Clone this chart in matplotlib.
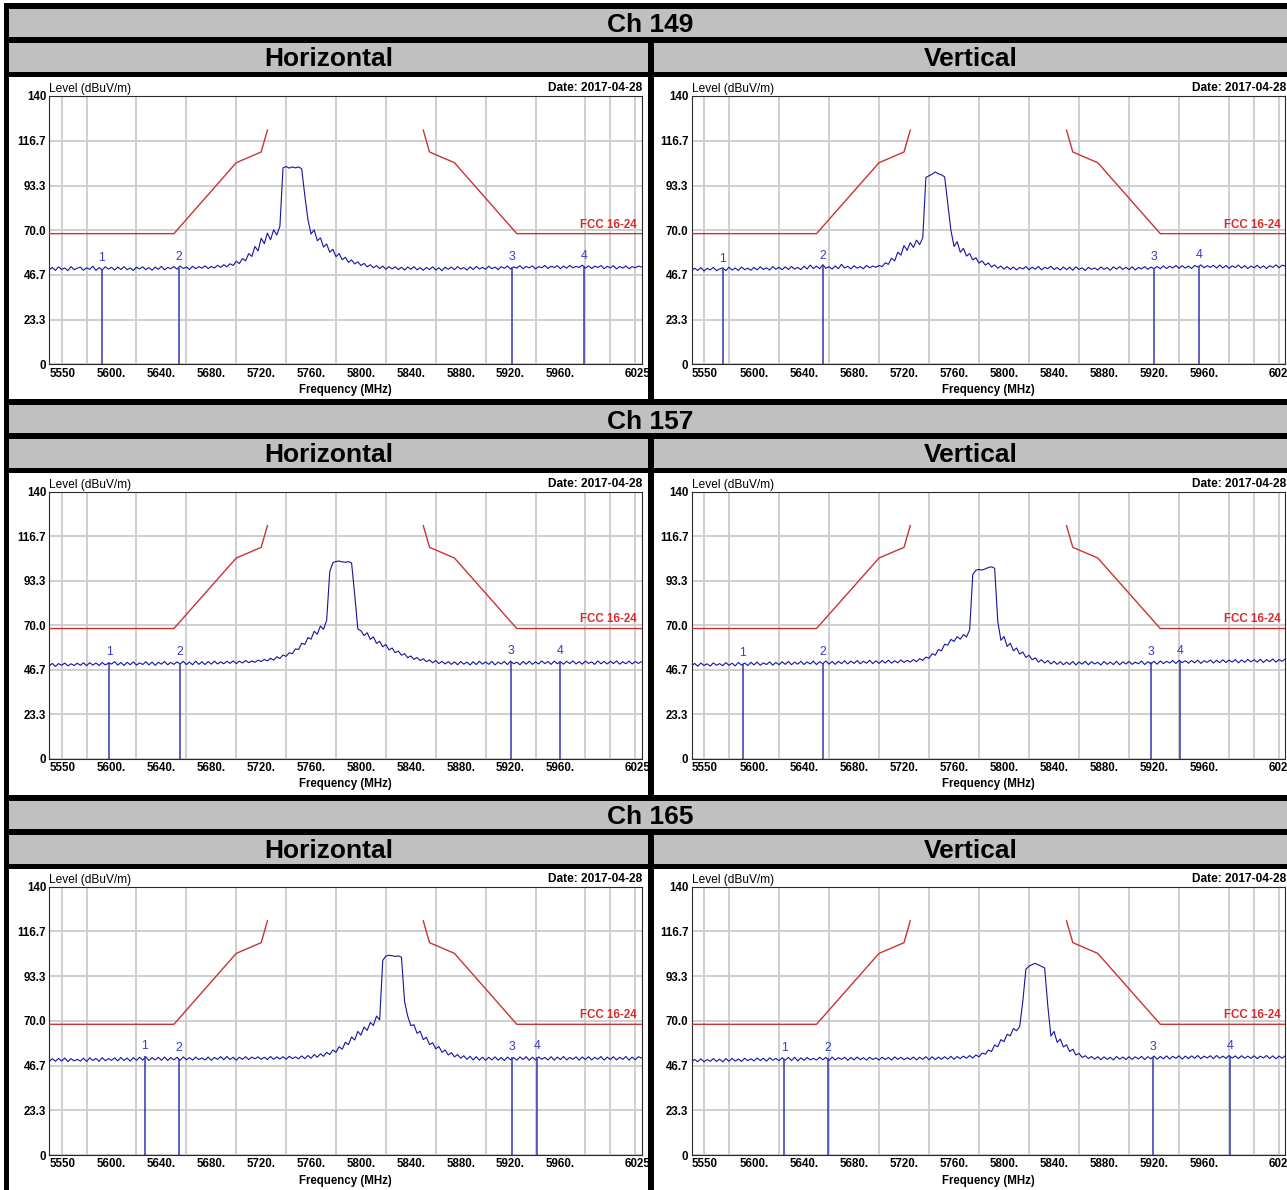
import numpy as np
import matplotlib
matplotlib.use('Agg')
import matplotlib.pyplot as plt
from matplotlib.patches import Rectangle

plt.rcParams['font.family'] = ['Liberation Sans', 'DejaVu Sans']

W, H = 1287, 1190

# ---------------- data ----------------
channels = ['Ch 149', 'Ch 157', 'Ch 165']
polarizations = ['Horizontal', 'Vertical']
date_label = 'Date: 2017-04-28'
y_label = 'Level (dBuV/m)'
x_label = 'Frequency (MHz)'
limit_name = 'FCC 16-24'

f_start, f_stop = 5550, 6025
y_ticks = [0, 23.3, 46.7, 70.0, 93.3, 116.7, 140]
y_ticklabels = ['0', '23.3', '46.7', '70.0', '93.3', '116.7', '140']
x_ticks = [5550, 5600, 5640, 5680, 5720, 5760, 5800, 5840, 5880, 5920, 5960, 6022]
x_ticklabels = ['5550', '5600.', '5640.', '5680.', '5720.', '5760.', '5800.',
                '5840.', '5880.', '5920.', '5960.', '6025']
grid_x = [5560, 5580, 5600, 5620, 5640, 5660, 5680, 5700, 5720, 5740, 5760, 5780,
          5800, 5820, 5840, 5860, 5880, 5900, 5920, 5940, 5960, 5980, 6000, 6020]

limit_low_f = [5550, 5650, 5700, 5720, 5725]
limit_low_v = [68.2, 68.2, 105.2, 110.8, 122.2]
limit_high_f = [5850, 5855, 5875, 5925, 6025]
limit_high_v = [122.2, 110.8, 105.2, 68.2, 68.2]

trace_149_h = [
    49.3, 50.6, 49.0, 50.9, 49.5, 50.3, 48.9, 51.0, 49.4, 50.2,
    50.8, 49.1, 50.4, 49.6, 51.2, 49.0, 50.5, 49.3, 50.9, 49.7,
    50.6, 49.2, 50.8, 49.5, 51.0, 49.4, 50.3, 49.0, 50.7, 49.8,
    50.9, 49.4, 50.5, 49.1, 50.8, 49.6, 51.1, 49.3, 50.6, 49.9,
    51.0, 49.7, 51.3, 50.0, 50.8, 49.5, 51.2, 49.9, 51.0, 50.2,
    51.4, 50.0, 51.1, 50.3, 51.7, 50.6, 52.0, 50.9, 52.5, 51.6,
    53.8, 52.6, 55.2, 54.0, 57.8, 56.3, 61.5, 59.2, 65.8, 63.0,
    68.5, 65.0, 70.2, 67.5, 72.0, 102.5, 103.2, 102.4, 103.0, 102.5,
    103.0, 102.0, 88.0, 75.5, 68.0, 70.2, 64.5, 66.0, 61.2, 62.8,
    58.5, 60.0, 56.2, 57.8, 54.6, 55.9, 53.2, 54.5, 52.4, 53.5,
    51.6, 52.7, 50.9, 52.0, 50.4, 51.5, 50.0, 51.3, 49.6, 51.0,
    49.8, 50.9, 49.4, 50.7, 49.2, 50.8, 49.6, 51.0, 49.3, 50.5,
    49.1, 50.6, 49.5, 50.9, 49.2, 50.4, 48.9, 50.7, 49.6, 50.8,
    49.4, 51.0, 49.7, 50.5, 49.2, 50.9, 49.5, 51.1, 49.8, 50.6,
    49.6, 51.2, 49.9, 50.8, 49.4, 51.0, 50.1, 51.3, 49.7, 50.9,
    50.2, 51.5, 49.9, 51.1, 50.3, 51.4, 49.8, 51.0, 50.4, 51.6,
    50.0, 51.2, 50.5, 51.5, 49.9, 51.3, 50.2, 51.6, 50.4, 51.1,
    50.6, 51.8, 50.2, 51.4, 50.0, 51.3, 50.5, 51.6, 49.9, 51.2,
    50.3, 51.5, 49.8, 51.1, 50.2, 51.4, 49.9, 51.0, 50.4, 51.3, 50.8]

trace_149_v = [
    48.8, 50.2, 49.0, 50.5, 48.7, 50.1, 49.3, 50.6, 48.9, 49.8,
    50.4, 48.9, 50.7, 49.2, 50.3, 49.0, 50.8, 49.4, 50.2, 49.1,
    50.6, 49.3, 50.9, 49.5, 50.4, 49.2, 51.0, 49.6, 50.7, 49.4,
    50.9, 49.5, 51.1, 49.7, 50.6, 49.4, 51.2, 49.8, 51.8, 50.0,
    51.3, 49.9, 52.0, 50.1, 51.0, 49.7, 51.4, 49.9, 52.2, 50.3,
    51.2, 49.8, 51.5, 50.2, 51.0, 49.9, 51.6, 50.4, 51.3, 50.6,
    51.6, 51.0, 53.0, 52.2, 55.4, 54.0, 58.5, 57.0, 62.0, 59.5,
    63.5, 61.0, 64.8, 62.5, 66.0, 97.5, 98.4, 99.2, 100.4, 99.4,
    98.9, 97.8, 84.0, 70.0, 61.5, 64.0, 58.5, 60.5, 56.5, 57.8,
    54.5, 55.6, 52.9, 54.0, 51.8, 52.9, 50.8, 51.9, 50.2, 51.3,
    49.7, 51.0, 49.5, 50.8, 49.3, 50.6, 49.8, 51.0, 49.4, 50.7,
    49.6, 51.1, 49.3, 50.6, 49.9, 51.2, 49.5, 50.5, 49.2, 50.8,
    49.4, 50.7, 49.1, 50.9, 49.5, 50.4, 49.0, 50.6, 49.6, 50.3,
    49.3, 50.8, 49.6, 50.5, 49.1, 50.9, 49.7, 51.0, 49.5, 50.7,
    49.4, 50.9, 49.2, 50.6, 49.8, 51.0, 49.6, 50.8, 49.9, 51.1,
    49.9, 51.4, 50.0, 51.2, 50.3, 51.6, 50.1, 51.5, 50.2, 51.3,
    50.0, 51.6, 50.8, 51.9, 50.4, 51.5, 50.6, 51.7, 50.2, 51.8,
    50.3, 51.6, 50.1, 51.4, 50.5, 51.8, 50.2, 51.5, 50.0, 51.3,
    50.4, 51.7, 50.2, 51.4, 50.0, 51.5, 50.6, 51.9, 50.4, 51.8, 51.2]

trace_157_h = [
    48.5, 49.9, 48.3, 49.8, 48.9, 50.1, 48.6, 49.7, 48.8, 50.0,
    48.9, 50.2, 48.7, 50.3, 49.0, 50.1, 48.8, 50.4, 49.1, 50.0,
    49.6, 50.8, 49.0, 50.4, 48.8, 50.5, 49.2, 50.7, 49.0, 50.2,
    49.3, 50.8, 49.1, 50.6, 48.9, 50.5, 49.5, 50.9, 49.2, 50.4,
    49.4, 50.7, 49.6, 51.0, 49.3, 50.6, 49.2, 51.1, 49.4, 50.8,
    49.3, 50.9, 49.5, 51.1, 49.6, 50.7, 49.7, 51.0, 49.9, 51.2,
    49.8, 51.1, 50.1, 51.4, 50.3, 51.2, 50.5, 51.6, 50.9, 52.0,
    51.2, 52.6, 51.6, 53.4, 52.5, 54.3, 53.6, 55.5, 55.0, 57.5,
    57.2, 60.5, 59.8, 63.5, 62.6, 66.8, 65.2, 69.5, 67.8, 72.5,
    98.0, 102.8, 103.4, 103.6, 103.2, 103.0, 103.3, 102.6, 86.0, 68.0,
    67.0, 64.5, 66.0, 62.5, 63.8, 60.4, 61.5, 58.6, 59.8, 57.0,
    58.0, 55.5, 56.4, 54.2, 55.0, 52.9, 53.8, 52.0, 53.0, 51.4,
    52.3, 50.8, 51.7, 50.2, 51.4, 49.8, 51.0, 49.6, 50.8, 49.4,
    50.7, 49.2, 50.9, 49.5, 50.6, 49.1, 50.8, 49.3, 51.0, 49.5,
    50.7, 49.4, 51.0, 49.1, 50.6, 49.6, 50.9, 49.3, 51.1, 49.7,
    50.6, 49.2, 50.9, 49.5, 51.0, 49.4, 50.7, 49.6, 51.2, 49.8,
    50.9, 49.4, 51.1, 49.7, 50.8, 49.5, 51.0, 49.8, 51.2, 49.6,
    50.8, 49.5, 51.1, 49.9, 50.7, 49.4, 51.2, 49.7, 50.9, 49.6,
    51.0, 49.8, 51.2, 49.5, 50.8, 49.7, 51.1, 49.6, 50.9, 49.9, 50.8]

trace_157_v = [
    48.6, 49.9, 48.4, 50.1, 48.8, 49.7, 48.5, 50.2, 48.9, 49.8,
    48.7, 50.3, 48.9, 50.0, 48.6, 50.4, 49.0, 50.1, 48.8, 50.5,
    49.1, 50.6, 48.9, 50.2, 49.3, 50.7, 49.0, 50.4, 49.2, 50.8,
    49.4, 50.9, 49.2, 50.6, 49.5, 51.0, 49.3, 50.7, 49.6, 51.1,
    49.3, 50.8, 49.7, 51.2, 49.5, 50.9, 49.4, 51.0, 49.8, 51.3,
    49.6, 51.1, 49.9, 51.4, 49.7, 51.0, 50.0, 51.5, 49.8, 51.2,
    49.9, 51.4, 50.1, 51.6, 50.0, 51.3, 50.2, 51.7, 50.4, 51.5,
    50.6, 51.9, 50.8, 52.4, 51.5, 53.2, 52.6, 55.0, 54.2, 57.2,
    56.5, 60.0, 59.5, 62.5, 61.4, 64.0, 62.6, 65.0, 63.8, 67.5,
    96.5, 98.8, 99.2, 98.9, 99.5, 100.2, 100.6, 99.8, 72.0, 62.0,
    64.0, 58.8, 60.5, 56.5, 58.0, 54.8, 55.9, 53.0, 54.2, 51.8,
    52.8, 50.6, 51.8, 50.1, 51.4, 49.6, 51.0, 49.4, 50.8, 49.2,
    50.6, 49.3, 50.9, 49.1, 50.7, 49.5, 51.0, 49.2, 50.8, 49.6,
    50.5, 49.1, 50.9, 49.4, 50.6, 49.3, 51.0, 49.2, 50.7, 49.6,
    50.9, 49.4, 50.6, 49.7, 51.1, 49.3, 50.8, 49.6, 51.0, 49.5,
    51.2, 49.8, 51.0, 50.1, 51.4, 49.9, 51.5, 50.3, 51.3, 50.0,
    51.4, 50.2, 51.6, 49.9, 51.3, 50.4, 51.7, 50.1, 51.5, 50.3,
    51.8, 50.4, 51.6, 50.6, 51.9, 50.2, 51.7, 50.5, 52.0, 50.7,
    51.8, 50.6, 52.1, 50.4, 51.9, 50.8, 52.2, 50.6, 51.9, 51.0, 52.3]

trace_165_h = [
    48.8, 50.2, 48.9, 50.4, 49.0, 50.6, 48.7, 50.3, 49.1, 49.9,
    49.0, 50.5, 48.8, 50.7, 49.3, 50.4, 48.9, 50.8, 49.2, 50.3,
    49.4, 50.7, 49.1, 50.9, 49.3, 50.6, 49.0, 50.8, 49.4, 51.0,
    49.5, 51.2, 49.3, 50.8, 49.6, 51.0, 49.4, 51.1, 49.3, 50.9,
    49.6, 51.0, 49.4, 51.2, 49.7, 50.8, 49.5, 51.1, 49.8, 50.6,
    49.6, 51.1, 49.4, 50.9, 49.9, 51.3, 49.7, 51.4, 49.8, 51.0,
    49.5, 51.0, 49.9, 51.3, 49.8, 51.1, 50.2, 51.2, 49.9, 51.0,
    49.8, 51.4, 49.9, 51.2, 50.1, 51.3, 50.0, 51.5, 50.3, 51.2,
    50.2, 51.7, 50.3, 51.9, 50.5, 52.4, 51.0, 52.8, 51.5, 53.6,
    52.4, 54.8, 53.6, 56.5, 55.2, 58.8, 57.6, 61.6, 60.0, 64.5,
    62.5, 66.8, 65.0, 69.2, 67.6, 72.5, 70.5, 101.5, 103.8, 104.2,
    104.0, 103.6, 103.9, 103.2, 80.0, 72.5, 67.5, 68.0, 63.5, 64.6,
    60.2, 61.4, 57.6, 58.6, 55.4, 56.6, 53.6, 54.8, 52.2, 53.4,
    51.2, 52.4, 50.5, 51.8, 49.9, 51.5, 49.6, 51.3, 49.5, 51.0,
    49.4, 51.0, 49.6, 51.2, 49.5, 50.9, 49.3, 51.1, 49.7, 50.8,
    49.5, 51.2, 49.8, 51.3, 49.4, 51.0, 49.7, 51.2, 49.9, 50.9,
    49.6, 51.3, 49.5, 51.1, 49.8, 51.4, 49.6, 50.9, 49.9, 51.2,
    49.5, 51.1, 49.8, 51.3, 49.6, 51.0, 49.9, 51.4, 49.5, 51.1,
    49.8, 51.3, 49.6, 51.0, 49.9, 51.4, 49.5, 51.1, 49.7, 51.3, 50.6]

trace_165_v = [
    48.5, 49.9, 48.7, 50.2, 48.6, 49.8, 48.9, 50.3, 48.8, 50.0,
    48.6, 50.3, 48.9, 50.4, 49.0, 50.1, 48.8, 50.5, 49.2, 50.2,
    49.1, 50.6, 49.3, 50.5, 49.0, 50.7, 49.4, 50.4, 49.2, 50.8,
    49.5, 50.9, 49.3, 51.0, 49.1, 50.7, 49.4, 50.9, 49.6, 50.5,
    49.5, 51.0, 49.7, 50.9, 49.3, 51.1, 49.6, 50.8, 49.9, 51.0,
    49.4, 50.9, 49.6, 51.1, 49.7, 50.8, 49.5, 51.0, 49.8, 50.7,
    49.6, 51.0, 49.8, 50.9, 49.5, 51.2, 49.9, 51.0, 49.7, 50.8,
    49.8, 51.1, 49.6, 51.0, 49.9, 51.3, 49.7, 51.2, 49.8, 51.1,
    49.9, 51.3, 50.0, 51.5, 49.9, 51.4, 50.3, 51.6, 50.5, 51.9,
    50.6, 52.2, 51.2, 53.2, 52.6, 54.8, 54.0, 57.4, 56.5, 60.2,
    59.2, 63.0, 62.2, 66.0, 64.8, 67.0, 80.0, 97.0, 98.5, 99.4,
    100.0, 99.2, 98.4, 97.6, 78.0, 62.0, 64.5, 58.8, 60.5, 56.4,
    57.5, 54.0, 55.2, 52.2, 53.0, 50.9, 51.8, 50.3, 51.4, 50.0,
    51.3, 49.7, 51.2, 49.9, 51.0, 49.6, 51.4, 50.0, 51.1, 49.8,
    51.3, 49.9, 51.2, 50.1, 51.5, 49.8, 51.3, 50.2, 51.6, 50.0,
    51.4, 50.2, 51.7, 50.1, 51.5, 50.4, 51.8, 50.0, 51.6, 50.3,
    51.7, 50.5, 51.9, 50.2, 51.6, 50.6, 51.8, 50.3, 51.9, 50.5,
    51.6, 50.4, 51.9, 50.6, 51.7, 50.3, 51.8, 50.5, 51.6, 50.4,
    51.8, 50.3, 51.6, 50.6, 51.9, 50.4, 51.7, 50.2, 51.6, 50.5, 51.8]

marker_f_149_h = [5592, 5654, 5921, 5979]
marker_v_149_h = [49.8, 50.5, 50.6, 51.2]
marker_f_149_v = [5575, 5655, 5920, 5956]
marker_v_149_v = [49.6, 51.2, 50.5, 51.5]
marker_f_157_h = [5598, 5655, 5920.5, 5960]
marker_v_157_h = [50.6, 50.2, 50.8, 51.0]
marker_f_157_v = [5591, 5655, 5917.5, 5941]
marker_v_157_v = [49.8, 50.3, 50.6, 51.0]
marker_f_165_h = [5626.5, 5654, 5921, 5941]
marker_v_165_h = [51.5, 50.3, 51.0, 51.3]
marker_f_165_v = [5624, 5659, 5919, 5981]
marker_v_165_v = [50.2, 50.4, 51.0, 51.5]

traces = [[trace_149_h, trace_149_v], [trace_157_h, trace_157_v], [trace_165_h, trace_165_v]]
marker_f = [[marker_f_149_h, marker_f_149_v], [marker_f_157_h, marker_f_157_v], [marker_f_165_h, marker_f_165_v]]
marker_v = [[marker_v_149_h, marker_v_149_v], [marker_v_157_h, marker_v_157_v], [marker_v_165_h, marker_v_165_v]]

# ---------------- style / layout ----------------
GRAY = '#c0c0c0'
TRACE = '#1515a0'
MARK = '#3535b0'
MARK_TXT = '#3a3ac8'
LIMIT = '#c83434'
LIMIT_TXT = '#d82a2a'
GRID = '#cccccc'

fig = plt.figure(figsize=(W / 100, H / 100), dpi=100)
fig.patch.set_facecolor('white')


def frect(x0, y0, x1, y1):
    return [x0 / W, 1 - y1 / H, (x1 - x0) / W, (y1 - y0) / H]


def add_rect(x0, y0, x1, y1, color, z):
    r = Rectangle((x0 / W, 1 - y1 / H), (x1 - x0) / W, (y1 - y0) / H,
                  transform=fig.transFigure, facecolor=color, edgecolor='none', zorder=z)
    fig.add_artist(r)


def ftext(x, y, s, **kw):
    fig.text(x / W, 1 - y / H, s, **kw)


add_rect(4, 3, W + 5, H + 5, 'black', -10)

row_off = [0, 396, 792]
ax_tops = [96, 491.7, 886.7]
ax_bots = [364.4, 758.5, 1155]
col_x = [(9, 648), (654, W + 5)]
ax_x = [(49.2, 641.5), (691.5, 1285.3)]

for r in range(3):
    o = row_off[r]
    add_rect(9, 9 + o, W + 5, 37 + o, GRAY, -9)
    ftext(650, 32.5 + o, channels[r], ha='center', va='baseline', fontsize=19, fontweight='bold')
    for c in range(2):
        cx0, cx1 = col_x[c]
        add_rect(cx0, 43 + o, cx1, 72 + o, GRAY, -9)
        add_rect(cx0, 77 + o, cx1, 399 + o, 'white', -9)
        ftext((cx0 + min(cx1, W)) / 2, 66.5 + o, polarizations[c], ha='center', va='baseline',
              fontsize=19, fontweight='bold')

        x0, x1 = ax_x[c]
        top, bot = ax_tops[r], ax_bots[r]
        ax = fig.add_axes(frect(x0, top, x1, bot))
        ax.set_facecolor('white')
        ax.set_xlim(f_start, f_stop)
        ax.set_ylim(0, 140)
        ax.set_xticks(x_ticks, x_ticklabels)
        ax.set_xticks(grid_x, minor=True)
        ax.set_yticks(y_ticks, y_ticklabels)
        ax.grid(True, which='minor', axis='x', color=GRID, lw=1.3)
        ax.grid(True, which='major', axis='y', color=GRID, lw=1.3)
        ax.set_axisbelow(True)
        ax.tick_params(which='both', length=0)
        ax.tick_params(axis='x', pad=2.5, labelsize=8.3)
        ax.tick_params(axis='y', pad=2.2, labelsize=8.3)
        for lbl in ax.get_xticklabels() + ax.get_yticklabels():
            lbl.set_fontweight('bold')
        ax.get_xticklabels()[0].set_horizontalalignment('left')
        for s in ax.spines.values():
            s.set_color('#2a2a2a')
            s.set_linewidth(0.8)

        freqs = np.linspace(f_start, f_stop, len(traces[r][c]))
        ax.plot(limit_low_f, limit_low_v, color=LIMIT, lw=1.0, zorder=3)
        ax.plot(limit_high_f, limit_high_v, color=LIMIT, lw=1.0, zorder=3)
        ax.annotate(limit_name, (f_stop, limit_low_v[0]), xytext=(-3.5, 2.2),
                    textcoords='offset points', ha='right', va='bottom',
                    color=LIMIT_TXT, fontsize=8.3, fontweight='bold')
        ax.plot(freqs, traces[r][c], color=TRACE, lw=0.8, zorder=4)
        ax.vlines(marker_f[r][c], 0, marker_v[r][c], color=MARK, lw=1.1, zorder=4)
        for i, (mf, mv) in enumerate(zip(marker_f[r][c], marker_v[r][c])):
            ax.annotate(str(i + 1), (mf, mv), xytext=(0, 3.2), textcoords='offset points',
                        ha='center', va='bottom', color=MARK_TXT, fontsize=8.8)

        ftext(x0, top - 4, y_label, ha='left', va='baseline', fontsize=8.6)
        ftext(x1 + 1, top - 5, date_label, ha='right', va='baseline', fontsize=8.6,
              fontweight='bold')
        ftext((x0 + x1) / 2, bot + 29, x_label, ha='center', va='baseline', fontsize=8.3,
              fontweight='bold')

    # divider between the two columns (drawn on top to clip labels)
    add_rect(648, 43 + o, 654, 399 + o, 'black', 10)

fig.savefig('out.png', dpi=100, facecolor='white')
